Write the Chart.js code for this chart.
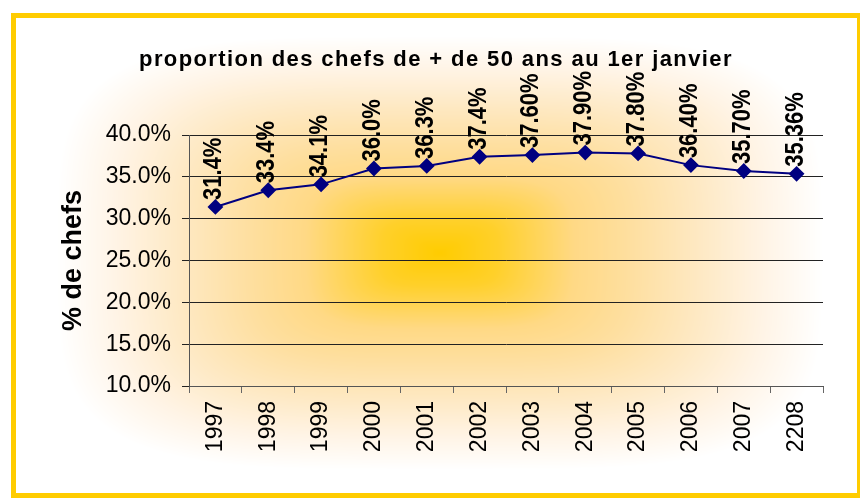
<!DOCTYPE html>
<html lang="fr">
<head>
<meta charset="utf-8">
<title>proportion des chefs de + de 50 ans au 1er janvier</title>
<script src="https://cdn.jsdelivr.net/npm/chart.js@4/dist/chart.umd.min.js"></script>
<style>
  html, body { margin: 0; padding: 0; background: #fff; }
  #wrap { width: 860px; height: 499px; position: relative; }
</style>
</head>
<body>
<div id="wrap"><canvas id="c"></canvas></div>
<script>
// Années (catégories de l'axe horizontal)
const years = ['1997', '1998', '1999', '2000', '2001', '2002', '2003', '2004', '2005', '2006', '2007', '2208'];
// Proportion des chefs de plus de 50 ans (%)
const shares = [31.4, 33.4, 34.1, 36.0, 36.3, 37.4, 37.60, 37.90, 37.80, 36.40, 35.70, 35.36];
// Nombre de décimales affichées dans chaque étiquette
const labelDecimals = [1, 1, 1, 1, 1, 1, 2, 2, 2, 2, 2, 2];
// Graduations de l'axe vertical
const yMin = 10, yMax = 40, yStep = 5;

const chartTitle = 'proportion des chefs de + de 50 ans au 1er janvier';
const yTitle = '% de chefs';

const FONT = "'Liberation Sans', Arial, sans-serif";

// Dégradé « depuis le centre » : or au centre, blanc vers les bords
const gradStops = [
  [0.00, [255, 204, 0]],
  [0.15, [255, 208, 42]],
  [0.35, [255, 217, 133]],
  [0.50, [254, 223, 160]],
  [0.68, [254, 233, 196]],
  [0.85, [255, 244, 230]],
  [1.00, [255, 255, 255]]
];

function gradColor(t) {
  if (t >= 1) return gradStops[gradStops.length - 1][1];
  for (let i = 1; i < gradStops.length; i++) {
    const [t1, c1] = gradStops[i];
    if (t <= t1) {
      const [t0, c0] = gradStops[i - 1];
      const f = (t - t0) / (t1 - t0);
      return [0, 1, 2].map(k => c0[k] + (c1[k] - c0[k]) * f);
    }
  }
  return gradStops[gradStops.length - 1][1];
}

let bgCache = null;
function buildBackground(W, H) {
  const off = document.createElement('canvas');
  off.width = W; off.height = H;
  const octx = off.getContext('2d');
  const img = octx.createImageData(W, H);
  // contours arrondis entre l'ellipse et le rectangle
  const cx = 440, cy = 253, hw = 383, hh = 217, p = 4;
  for (let y = 0; y < H; y++) {
    for (let x = 0; x < W; x++) {
      const dx = Math.abs(x + 0.5 - cx) / hw;
      const dy = Math.abs(y + 0.5 - cy) / hh;
      const t = Math.pow(Math.pow(dx, p) + Math.pow(dy, p), 1 / p);
      const c = gradColor(t);
      const o = (y * W + x) * 4;
      img.data[o] = c[0]; img.data[o + 1] = c[1]; img.data[o + 2] = c[2]; img.data[o + 3] = 255;
    }
  }
  octx.putImageData(img, 0, 0);
  return off;
}

// Fond dégradé et cadre jaune
const frame = {
  id: 'frame',
  beforeDraw(chart) {
    const ctx = chart.ctx;
    const W = chart.width, H = chart.height;
    if (!bgCache || bgCache.width !== W || bgCache.height !== H) bgCache = buildBackground(W, H);
    ctx.save();
    ctx.drawImage(bgCache, 0, 0);
    ctx.strokeStyle = '#FFCC00';
    ctx.lineWidth = 5;
    ctx.strokeRect(13.5, 15.5, 846, 480);
    ctx.restore();
  }
};

// Titre du graphique
const titleDraw = {
  id: 'titleDraw',
  afterDraw(chart) {
    const ctx = chart.ctx;
    ctx.save();
    ctx.font = 'bold 22px ' + FONT;
    ctx.fillStyle = '#000';
    ctx.letterSpacing = '1.4px';
    ctx.textAlign = 'left';
    ctx.textBaseline = 'alphabetic';
    const w = ctx.measureText(chartTitle).width;
    ctx.fillText(chartTitle, 436 - w / 2, 66);
    ctx.restore();
  }
};

// Étiquettes de valeurs verticales au-dessus des points
const valueLabels = {
  id: 'valueLabels',
  afterDatasetsDraw(chart) {
    const ctx = chart.ctx;
    const meta = chart.getDatasetMeta(0);
    ctx.save();
    ctx.font = 'bold 22px ' + FONT;
    ctx.fillStyle = '#000';
    ctx.textAlign = 'left';
    ctx.textBaseline = 'middle';
    meta.data.forEach((pt, i) => {
      const text = shares[i].toFixed(labelDecimals[i]) + '%';
      ctx.save();
      ctx.translate(pt.x - 1, pt.y - 7);
      ctx.rotate(-Math.PI / 2);
      ctx.scale(1, 1.15);
      ctx.fillText(text, 0, 0);
      ctx.restore();
    });
    ctx.restore();
  }
};

new Chart(document.getElementById('c'), {
  type: 'line',
  data: {
    labels: years,
    datasets: [{
      data: shares,
      borderColor: '#000080',
      backgroundColor: '#000080',
      borderWidth: 2,
      pointStyle: 'rectRot',
      pointRadius: 6.5,
      pointHoverRadius: 6.5,
      pointBackgroundColor: '#000080',
      pointBorderColor: '#000080',
      tension: 0,
      fill: false
    }]
  },
  options: {
    responsive: true,
    maintainAspectRatio: false,
    devicePixelRatio: 1,
    animation: false,
    events: [],
    layout: { padding: { top: 135, right: 37, bottom: 0, left: 0 } },
    plugins: {
      legend: { display: false },
      title: { display: false },
      tooltip: { enabled: false }
    },
    scales: {
      x: {
        type: 'category',
        offset: true,
        grid: {
          offset: true,
          drawOnChartArea: false,
          drawTicks: true,
          tickLength: 7,
          color: '#666'
        },
        border: { display: true, color: '#555', width: 1 },
        ticks: {
          minRotation: 90,
          maxRotation: 90,
          autoSkip: false,
          padding: 8,
          color: '#000',
          font: { family: FONT, size: 23 }
        },
        afterFit(scale) { scale.height = 113; }
      },
      y: {
        min: yMin,
        max: yMax,
        grid: {
          color: '#222',
          lineWidth: 1,
          drawTicks: true,
          tickLength: 7
        },
        border: { display: true, color: '#555', width: 1 },
        ticks: {
          stepSize: yStep,
          padding: 11,
          color: '#000',
          font: { family: FONT, size: 23 },
          callback: v => v.toFixed(1) + '%'
        },
        title: {
          display: true,
          text: yTitle,
          color: '#000',
          font: { family: FONT, size: 27, weight: 'bold' },
          padding: { top: 57, bottom: 0 }
        },
        afterFit(scale) { scale.width = 189; }
      }
    }
  },
  plugins: [frame, valueLabels, titleDraw]
});
</script>
</body>
</html>
